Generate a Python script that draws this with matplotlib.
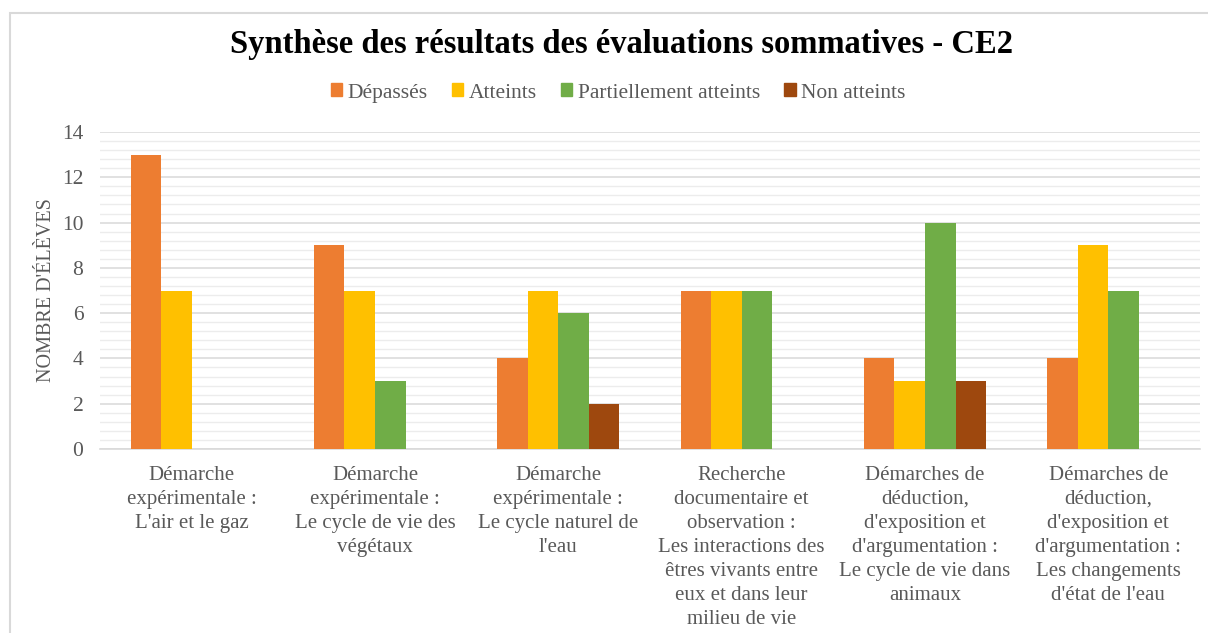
import matplotlib.pyplot as plt
import matplotlib.patches as mpatches
import numpy as np

categories = [
    "Démarche\nexpérimentale :\nL'air et le gaz",
    "Démarche\nexpérimentale :\nLe cycle de vie des\nvégétaux",
    "Démarche\nexpérimentale :\nLe cycle naturel de\nl'eau",
    "Recherche\ndocumentaire et\nobservation :\nLes interactions des\nêtres vivants entre\neux et dans leur\nmilieu de vie",
    "Démarches de\ndéduction,\nd'exposition et\nd'argumentation :\nLe cycle de vie dans\nanimaux",
    "Démarches de\ndéduction,\nd'exposition et\nd'argumentation :\nLes changements\nd'état de l'eau",
]
series_names = ["Dépassés", "Atteints", "Partiellement atteints", "Non atteints"]
depasses = [13, 9, 4, 7, 4, 4]
atteints = [7, 7, 7, 7, 3, 9]
partiel = [0, 3, 6, 7, 10, 7]
non_atteints = [0, 0, 2, 0, 3, 0]
colors = ["#ED7D31", "#FFC000", "#70AD47", "#9E480E"]

plt.rcParams['font.family'] = ['Liberation Serif', 'DejaVu Serif']
grey = "#595959"

fig = plt.figure(figsize=(12.08, 6.33), dpi=100)
ax = fig.add_axes([100 / 1208, 1 - 449 / 633, 1100 / 1208, 317 / 633])

# light frame around the chart area
fig.patches.append(mpatches.Rectangle((10 / 1208, -0.1), 1.2, 1 - 13 / 633 + 0.1,
                                      transform=fig.transFigure, fill=False,
                                      edgecolor="#d9d9d9", lw=1.5))

x = np.arange(len(categories))
w = 1 / 6
all_series = [depasses, atteints, partiel, non_atteints]
for i, (vals, name, c) in enumerate(zip(all_series, series_names, colors)):
    ax.bar(x + (i - 1.5) * w, vals, width=w, color=c, label=name, lw=0, zorder=3)

ax.set_xlim(-0.5, len(categories) - 0.5)
ax.set_ylim(0, 14)
ax.set_yticks(np.arange(0, 15, 2))
ax.set_yticks(np.arange(0, 14.01, 0.4), minor=True)
ax.grid(axis="y", which="major", color="#d9d9d9", lw=1.1, zorder=1)
ax.grid(axis="y", which="minor", color="#ececec", lw=1.0, zorder=0)
ax.tick_params(axis="both", which="both", length=0, colors=grey, labelsize=15.5)
ax.tick_params(axis="y", pad=12)
ax.set_xticks(x)
ax.set_xticklabels(categories, fontsize=15, color=grey, linespacing=1.36, va="top")
ax.tick_params(axis="x", pad=12)
for s in ["top", "right", "left"]:
    ax.spines[s].set_visible(False)
ax.spines["bottom"].set_color("#d9d9d9")
ax.spines["bottom"].set_linewidth(1.2)

ax.set_ylabel("NOMBRE D'ÉLÈVES", fontsize=14.5, color=grey, labelpad=4)

fig.text(621 / 1208, 1 - 45 / 633, "Synthèse des résultats des évaluations sommatives - CE2",
         ha="center", va="center", fontsize=23.5, fontweight="bold", color="black")

handles = [mpatches.Patch(color=c) for c in colors]
leg = fig.legend(handles, series_names, loc="center", bbox_to_anchor=(618 / 1208, 1 - 93 / 633),
                 ncol=4, frameon=False, fontsize=15.5, handlelength=0.55, handleheight=0.55,
                 handletextpad=0.25, columnspacing=1.1)
for t in leg.get_texts():
    t.set_color(grey)

fig.savefig("out.png", dpi=100)
